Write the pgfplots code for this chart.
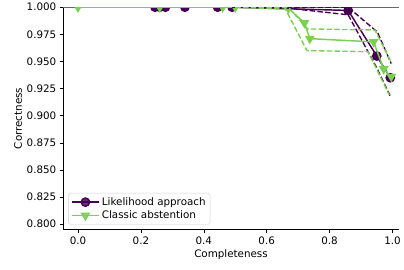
\documentclass[border=0pt]{standalone}
\usepackage{fontspec}
\setmainfont{DejaVu Sans}
\usepackage{pgfplots}
\pgfplotsset{compat=1.18}
\definecolor{vpurple}{HTML}{440154}
\definecolor{vgreen}{HTML}{7AD151}
\begin{document}
\begin{tikzpicture}
\begin{axis}[
  width=341pt, height=226pt, scale only axis,
  xmin=-0.047, xmax=1.02, ymin=0.795, ymax=1.0,
  axis x line*=bottom, axis y line*=left,
  axis line style={black, line width=0.8pt},
  tick style={black, line width=0.6pt},
  tick align=outside, major tick length=3.5pt,
  xtick={0,0.2,0.4,0.6,0.8,1.0},
  ytick={0.8,0.825,0.85,0.875,0.9,0.925,0.95,0.975,1.0},
  xticklabel style={/pgf/number format/.cd, fixed, fixed zerofill, precision=1},
  yticklabel style={/pgf/number format/.cd, fixed, fixed zerofill, precision=3},
  /pgf/number format/assume math mode=true,
  font=\fontsize{10.5}{12.5}\selectfont,
  xlabel={Completeness}, ylabel={Correctness},
  xlabel style={yshift=1pt}, ylabel style={yshift=-2pt},
  clip mode=individual,
  clip marker paths=true,
  legend style={at={(0.015,0.022)}, anchor=south west, draw=gray!35, rounded corners=2pt, fill=white, fill opacity=0.8, text opacity=1, font=\fontsize{10.5}{12.5}\selectfont, inner sep=2.5pt, row sep=0pt},
  legend cell align=left,
  legend image code/.code={\draw[mark repeat=2, mark phase=2, #1] plot coordinates {(0pt,0pt)(14pt,0pt)(28pt,0pt)};},
]
\draw[gray!80!black, line width=1pt] (rel axis cs:0,1) -- (rel axis cs:1,1);
% Likelihood approach
\addplot[vpurple, line width=1.5pt, mark=*, mark size=4.2pt] coordinates {
(0.245,1.0)(0.26,1.0)(0.278,1.0)(0.34,1.0)(0.444,1.0)(0.49,1.0)(0.859,0.997)(0.95,0.955)(0.993,0.935)};
\addlegendentry{Likelihood approach}
% Classic abstention
\addplot[vgreen, line width=1.5pt, mark=triangle*, mark size=4.3pt, mark options={rotate=180}] coordinates {
(0.0,1.0)(0.26,1.0)(0.46,1.0)(0.50,1.0)(0.669,0.999)(0.72,0.9855)(0.737,0.971)(0.94,0.968)(0.972,0.943)(0.996,0.936)};
\addlegendentry{Classic abstention}
% bands purple
\addplot[vpurple, line width=1.4pt, dash pattern=on 5.5pt off 2.4pt, forget plot] coordinates {
(0.49,1.0)(0.859,1.0)(0.952,0.977)(0.996,0.948)};
\addplot[vpurple, line width=1.4pt, dash pattern=on 5.5pt off 2.4pt, forget plot] coordinates {
(0.49,1.0)(0.67,0.999)(0.859,0.993)(0.95,0.944)(0.993,0.918)};
% bands green
\addplot[vgreen, line width=1.4pt, dash pattern=on 5.5pt off 2.4pt, forget plot] coordinates {
(0.50,1.0)(0.669,1.0)(0.73,0.980)(0.944,0.979)(0.998,0.948)};
\addplot[vgreen, line width=1.4pt, dash pattern=on 5.5pt off 2.4pt, forget plot] coordinates {
(0.50,1.0)(0.66,0.998)(0.728,0.960)(0.922,0.959)(0.99,0.919)};
\end{axis}
\path ([xshift=-11pt]current bounding box.west);
\path ([yshift=-6pt]current bounding box.south);
\end{tikzpicture}
\end{document}
